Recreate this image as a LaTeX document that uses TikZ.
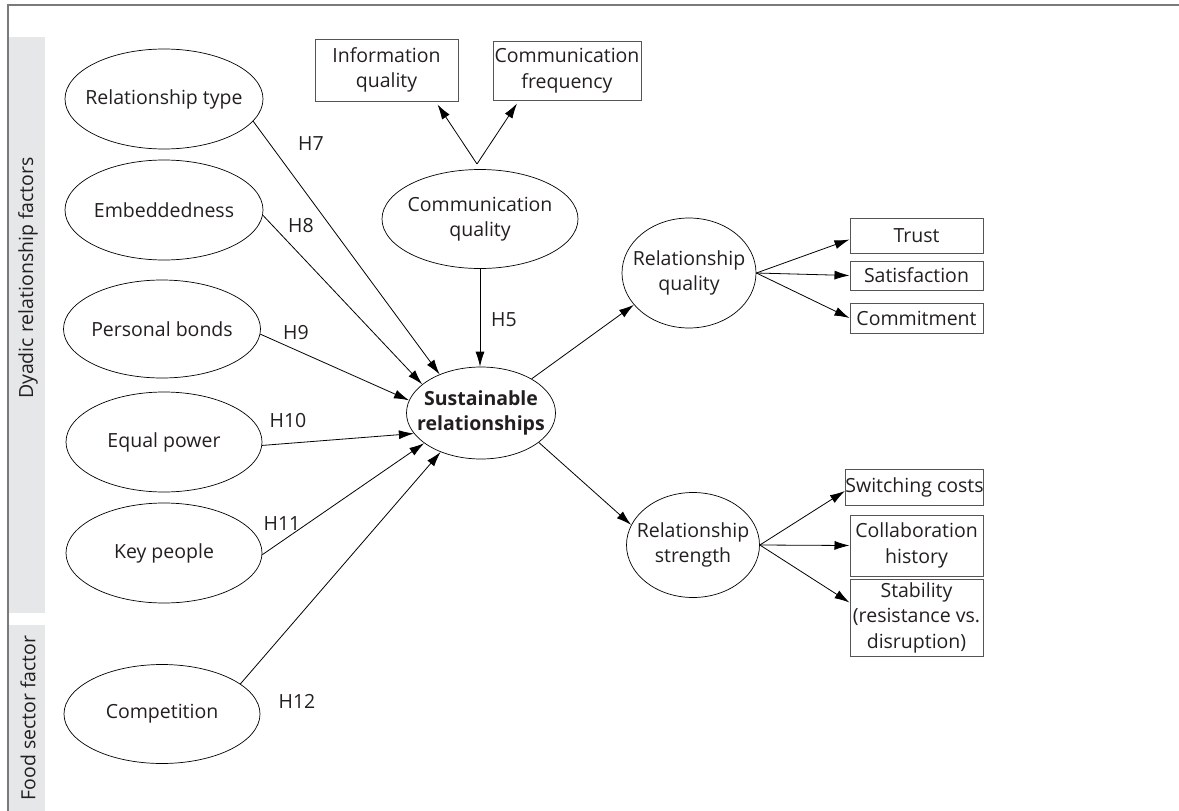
\documentclass[tikz,border=0pt]{standalone}
\usepackage{fontspec}
\setmainfont{Open Sans}
\usetikzlibrary{shapes.geometric,arrows.meta,calc}
\definecolor{txt}{HTML}{231F20}
\definecolor{bandgray}{HTML}{E6E7E8}
\definecolor{framegray}{HTML}{7A7A7A}
\definecolor{boxgray}{HTML}{555555}
\begin{document}
\begin{tikzpicture}[x=1pt,y=-1pt,
  every node/.style={text=txt, font=\fontsize{19.5}{25.5}\selectfont},
  ell/.style={ellipse, draw=black, line width=0.7pt, inner sep=0pt},
  etxt/.style={align=center, inner sep=0pt},
  box/.style={rectangle, draw=boxgray, line width=1pt, inner sep=0pt, align=center},
  arr/.style={-{Latex[length=15pt,width=9pt]}, line width=0.8pt, draw=black},
  hlab/.style={inner sep=0pt},
  bandlab/.style={rotate=90, inner sep=0pt}]
\useasboundingbox (0,0) rectangle (1179,811);
% bands and frame
\fill[bandgray] (9,37) rectangle (45,613);
\fill[bandgray] (9,625) rectangle (45,811);
\draw[framegray, line width=2pt] (8,811) -- (8,5) -- (1179,5);
\node[bandlab] (bl1) at (28,278) {Dyadic relationship factors};
\node[bandlab] (bl2) at (28,718) {Food sector factor};
% left ellipses
\node[ell, minimum width=198pt, minimum height=100pt] (rt) at (164,99) {};
\node[etxt] (rtt) at (rt) {Relationship type};
\node[ell, minimum width=198pt, minimum height=100pt] (em) at (164,210) {};
\node[etxt] (emt) at (em) {Embeddedness};
\node[ell, minimum width=197pt, minimum height=98pt] (pb) at (162,329) {};
\node[etxt] (pbt) at (pb) {Personal bonds};
\node[ell, minimum width=196pt, minimum height=100pt] (ep) at (164,442) {};
\node[etxt] (ept) at (ep) {Equal power};
\node[ell, minimum width=196pt, minimum height=100pt] (kp) at (164,553) {};
\node[etxt] (kpt) at (kp) {Key people};
\node[ell, minimum width=196pt, minimum height=99pt] (cp) at (162,714) {};
\node[etxt] (cpt) at (cp) {Competition};
% centre
\node[ell, minimum width=196pt, minimum height=99pt] (cq) at (480,219) {};
\node[etxt] (cqt) at (cq) {Communication\\quality};
\node[ell, minimum width=149pt, minimum height=92pt] (sr) at (481,413) {};
\node[etxt, font=\fontsize{19.5}{25.5}\selectfont\bfseries] (srt) at (sr) {Sustainable\\relationships};
\node[ell, minimum width=134pt, minimum height=110pt] (rq) at (689,273) {};
\node[etxt] (rqt) at (rq) {Relationship\\quality};
\node[ell, minimum width=133pt, minimum height=105pt] (rs) at (693,545) {};
\node[etxt] (rst) at (rs) {Relationship\\strength};
% boxes
\node[box, minimum width=143pt, minimum height=62pt] (iq) at (386.5,70) {Information\\quality};
\node[box, minimum width=148pt, minimum height=59pt] (cf) at (567,70.5) {Communication\\frequency};
\node[box, minimum width=133pt, minimum height=35pt] (tr) at (916.5,235.5) {Trust};
\node[box, minimum width=133pt, minimum height=29pt] (sa) at (916.5,275.5) {Satisfaction};
\node[box, minimum width=133pt, minimum height=30pt] (co) at (916.5,318) {Commitment};
\node[box, minimum width=133pt, minimum height=36pt] (sw) at (914.5,487) {Switching costs};
\node[box, minimum width=133pt, minimum height=61pt] (ch) at (916.5,545.5) {Collaboration\\history};
\node[box, minimum width=133pt, minimum height=77pt] (st) at (916.5,617.5) {Stability\\(resistance vs.\\disruption)};
% communication quality indicators
\coordinate (cqtop) at (477,164);
\draw[arr] (cqtop) -- ([xshift=51pt,yshift=-3pt]iq.south);
\draw[arr] (cqtop) -- ([xshift=-50pt,yshift=-3pt]cf.south);
% hypotheses
\draw[arr] (rt.346) -- (sr.137);
\draw[arr] (em.-3) -- (sr.154);
\draw[arr] (pb.-3) -- (sr.170);
\draw[arr] (ep.-2) -- (sr.197);
\draw[arr] (kp.-1) -- (sr.208);
\draw[arr] (cp.21) -- (sr.224);
\draw[arr] (cq.south) -- (cq.south |- sr.north);
\node[hlab] (h7) at (311,144) {H7};
\node[hlab] (h8) at (301,226) {H8};
\node[hlab] (h9) at (296,333) {H9};
\node[hlab] (h10) at (288,421) {H10};
\node[hlab] (h11) at (282,524) {H11};
\node[hlab] (h12) at (297,701) {H12};
\node[hlab] (h5) at (504,320) {H5};
% outcomes
\draw[arr] (sr.34) -- (rq.210);
\draw[arr] (sr.-27) -- (rs.162);
\draw[arr] (rq.east) -- ([yshift=-4pt]tr.west);
\draw[arr] (rq.east) -- (sa.west);
\draw[arr] (rq.east) -- (co.west);
\draw[arr] (rs.east) -- ([yshift=-4pt]sw.west);
\draw[arr] (rs.east) -- (ch.west);
\draw[arr] (rs.east) -- ([yshift=15pt]st.west);
\end{tikzpicture}
\end{document}
